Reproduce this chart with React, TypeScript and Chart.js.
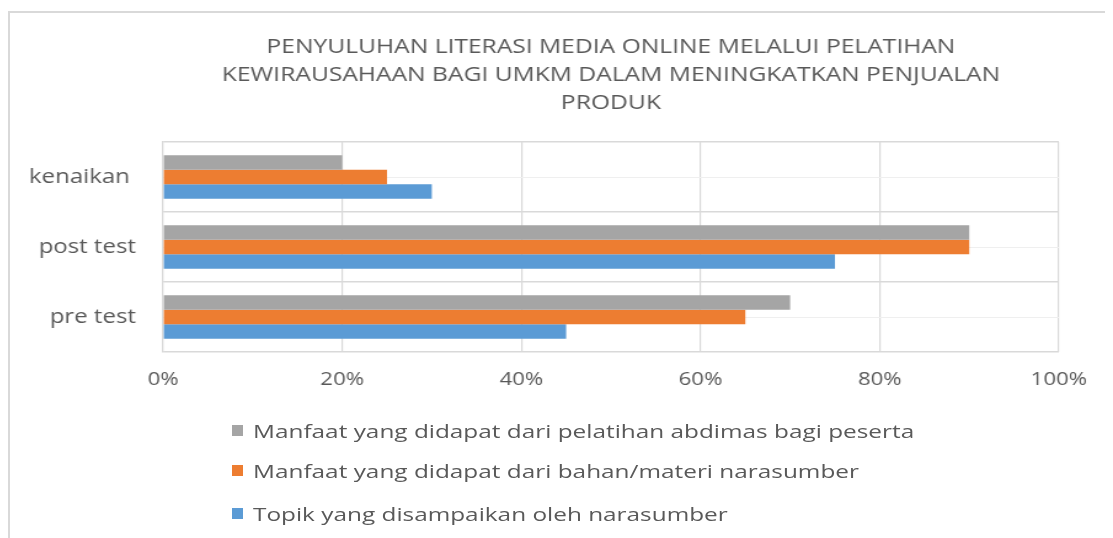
import React, { useEffect, useRef } from "react";
import { Chart, registerables } from "chart.js";

Chart.register(...registerables);

const titleLines = [
  "PENYULUHAN LITERASI MEDIA ONLINE MELALUI PELATIHAN",
  "KEWIRAUSAHAAN BAGI UMKM DALAM MENINGKATKAN PENJUALAN",
  "PRODUK",
];
const categories = ["kenaikan ", "post test", "pre test"];
const seriesNames = [
  "Manfaat yang didapat dari pelatihan abdimas bagi peserta",
  "Manfaat yang didapat dari bahan/materi narasumber",
  "Topik yang disampaikan oleh narasumber",
];
const manfaatPelatihan = [20, 90, 70];
const manfaatMateri = [25, 90, 65];
const topikNarasumber = [30, 75, 45];
const seriesColors = ["#A5A5A5", "#ED7D31", "#5B9BD5"];
const xTickValues = [0, 20, 40, 60, 80, 100];

const FONT = "'Open Sans', sans-serif";
const TEXT = "#595959";
const GRID = "#D9D9D9";

// the reference picture is stretched horizontally; render narrower and widen with CSS
const CSS_W = 1105;
const CANVAS_W = 898;
const STRETCH = CSS_W / CANVAS_W;
const H = 530;

export default function App() {
  const ref = useRef<HTMLCanvasElement | null>(null);

  useEffect(() => {
    document.body.style.overflow = "hidden";
    const canvas = ref.current;
    if (!canvas) return;
    const seriesValues = [manfaatPelatihan, manfaatMateri, topikNarasumber];
    const chart = new Chart(canvas, {
      type: "bar",
      data: {
        labels: categories,
        datasets: seriesNames.map((name, i) => ({
          label: name,
          data: seriesValues[i],
          backgroundColor: seriesColors[i],
          borderWidth: 0,
          categoryPercentage: 0.62,
          barPercentage: 1.0,
          yAxisID: "y",
        })),
      },
      options: {
        indexAxis: "y",
        animation: false,
        responsive: false,
        layout: { padding: { top: 0, left: 0, right: 44, bottom: 146 } },
        plugins: {
          legend: { display: false },
          tooltip: { enabled: false },
          title: {
            display: true,
            text: titleLines,
            fullSize: false,
            color: TEXT,
            font: { family: FONT, size: 20, weight: "normal", lineHeight: 1.4 },
            padding: { top: 25, bottom: 25 },
          },
        },
        scales: {
          x: {
            type: "linear",
            min: 0,
            max: 100,
            afterBuildTicks: (s: any) => {
              s.ticks = xTickValues.map((v) => ({ value: v }));
            },
            ticks: {
              color: TEXT,
              font: { family: FONT, size: 18 },
              padding: 17,
              callback: (v: any) => `${v}%`,
            },
            grid: { color: GRID, drawTicks: false, lineWidth: 1.2 },
            border: { display: false },
            afterFit: (s: any) => {
              s.height = 40;
            },
          },
          y: {
            type: "category",
            offset: true,
            ticks: { color: TEXT, font: { family: FONT, size: 19.5 }, padding: 22 },
            grid: { color: GRID, offset: true, drawTicks: false, lineWidth: 1.5 },
            border: { display: true, color: GRID, width: 1.2 },
            afterFit: (s: any) => {
              s.width = 126;
            },
          },
          y2: {
            type: "category",
            position: "left",
            offset: true,
            ticks: { display: false },
            grid: { color: "#EFEFEF", offset: false, drawTicks: false, lineWidth: 1 },
            border: { display: false },
            afterFit: (s: any) => {
              s.width = 0;
            },
          },
        },
      },
    });
    return () => chart.destroy();
  }, []);

  return (
    <div style={{ position: "relative", width: CSS_W, height: H, fontFamily: FONT }}>
      <canvas
        ref={ref}
        width={CANVAS_W}
        height={H}
        style={{ position: "absolute", left: 0, top: 0, width: CSS_W, height: H }}
      />
      <div
        style={{
          position: "absolute",
          left: 0,
          top: 3,
          width: CSS_W,
          height: H,
          borderTop: "2px solid #D9D9D9",
          borderLeft: "2px solid #D9D9D9",
          boxSizing: "border-box",
          pointerEvents: "none",
        }}
      />
      {seriesNames.map((name, i) => (
        <div
          key={name}
          style={{
            position: "absolute",
            left: 224,
            top: [422, 462, 505][i] - 12,
            height: 24,
            display: "flex",
            alignItems: "center",
            whiteSpace: "nowrap",
            color: TEXT,
            fontSize: 18.5,
          }}
        >
          <span
            style={{ display: "inline-block", width: 11, height: 11, background: seriesColors[i], marginRight: 10 }}
          />
          <span
            style={{
              display: "inline-block",
              transform: `scaleX(${STRETCH * 1.07})`,
              transformOrigin: "left center",
            }}
          >
            {name}
          </span>
        </div>
      ))}
    </div>
  );
}
